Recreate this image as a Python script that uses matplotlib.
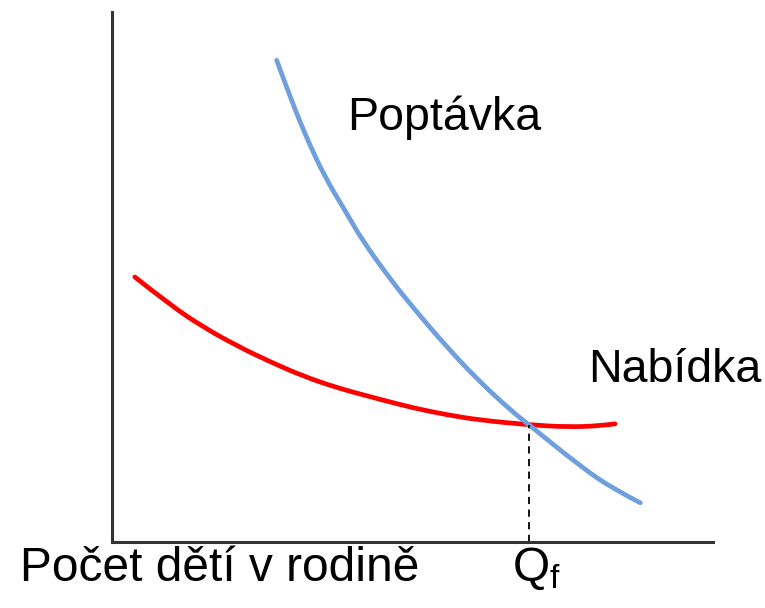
import matplotlib
matplotlib.use("Agg")
import matplotlib.pyplot as plt
from matplotlib.path import Path
from matplotlib.patches import PathPatch

# =========================
# DATA (arbitrary units 0-100)
# =========================
demand_x = [27.4, 28.8, 30.5, 32.6, 35.4, 38.8, 41.6, 46.3, 50.1, 55.7, 61.2, 66.7, 69.4, 77.9, 83.4, 87.9]
demand_y = [90.9, 86.6, 81.5, 75.7, 68.9, 62.5, 57.0, 49.6, 44.2, 36.8, 30.2, 24.5, 22.1, 14.3, 10.0, 7.4]

supply_x = [3.8, 9.7, 15.1, 20.8, 26.3, 31.8, 37.4, 44.3, 50.1, 55.7, 61.2, 69.4, 75.7, 81.2, 83.7]
supply_y = [50.0, 44.7, 40.6, 37.0, 34.0, 31.3, 29.1, 27.0, 25.3, 24.0, 23.0, 22.1, 21.7, 21.9, 22.3]

q_f = 69.4
p_f = 22.1

x_label = "Počet dětí v rodině"
demand_label = "Poptávka"
supply_label = "Nabídka"


def smooth_path(xs, ys):
    # quadratic bezier through midpoints, read points act as control points
    pts = list(zip(xs, ys))
    verts = [pts[0]]
    codes = [Path.MOVETO]
    for i in range(1, len(pts) - 1):
        if i == len(pts) - 2:
            end = pts[-1]
        else:
            end = ((pts[i][0] + pts[i + 1][0]) / 2, (pts[i][1] + pts[i + 1][1]) / 2)
        verts += [pts[i], end]
        codes += [Path.CURVE3, Path.CURVE3]
    return Path(verts, codes)


# =========================
# PLOT
# =========================
plt.rcParams["font.family"] = ["Liberation Sans", "DejaVu Sans"]
plt.rcParams["mathtext.fontset"] = "custom"
plt.rcParams["mathtext.rm"] = "Liberation Sans"

W, H = 765, 608
fig = plt.figure(figsize=(W / 100, H / 100), dpi=100)
ax = fig.add_axes([112 / W, (H - 542) / H, (713 - 112) / W, (542 - 12) / H])
ax.set_xlim(0, 100)
ax.set_ylim(0, 100)

ax.add_patch(PathPatch(smooth_path(supply_x, supply_y), fill=False,
                       edgecolor="#ff0000", linewidth=3.4, capstyle="round"))
ax.add_patch(PathPatch(smooth_path(demand_x, demand_y), fill=False,
                       edgecolor="#6f9fdc", linewidth=3.4, capstyle="round"))
ax.plot([q_f, q_f], [0, p_f], color="black", linewidth=1.3, linestyle=(0, (4, 3)))

ax.text(39.1, 80.0, demand_label, fontsize=33.5, va="center", ha="left")
ax.text(79.3, 32.5, supply_label, fontsize=33.5, va="center", ha="left")

fig.text(20 / W, 1 - 581 / H, x_label, fontsize=34.5, va="baseline", ha="left")
fig.text(512 / W, 1 - 581 / H, r"Q$_\mathrm{f}$", fontsize=34.5, va="baseline", ha="left")

for side in ["top", "right"]:
    ax.spines[side].set_visible(False)
for side in ["left", "bottom"]:
    ax.spines[side].set_linewidth(2.2)
    ax.spines[side].set_color("#333333")
ax.set_xticks([])
ax.set_yticks([])

fig.savefig("out.png", dpi=100)
